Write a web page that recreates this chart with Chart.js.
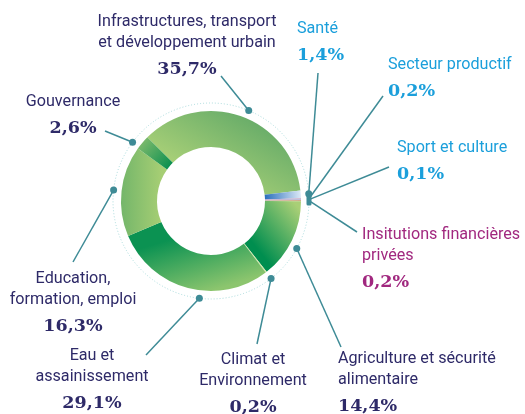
<!DOCTYPE html>
<html>
<head>
<meta charset="utf-8">
<script src="https://cdn.jsdelivr.net/npm/chart.js@4.4.1/dist/chart.umd.min.js"></script>
<style>
  html, body { margin: 0; padding: 0; background: #fff; overflow: hidden; }
</style>
</head>
<body>
<canvas id="donut" width="525" height="414"></canvas>
<script>
// Data (clockwise, starting at the upper left)
const categories = [
    'Infrastructures, transport\net développement urbain',
    'Santé',
    'Secteur productif',
    'Sport et culture',
    'Insitutions financières\nprivées',
    'Agriculture et sécurité\nalimentaire',
    'Climat et\nEnvironnement',
    'Eau et\nassainissement',
    'Education,\nformation, emploi',
    'Gouvernance'
];
const values = [35.7, 1.4, 0.2, 0.1, 0.2, 14.4, 0.2, 29.1, 16.3, 2.6];

// Slice fills. linear: from/to in radius units around the centre; radial: inner -> outer
const sliceFills = [
    { linear: [[0.3, -1.0], [-0.15, -0.2]], colors: ['#69ad69', '#acd278'] },
    { radial: ['#2a6fbd', '#dbe8f5'] },
    { solid: '#c9a3c2' },
    { solid: '#98aedb' },
    { solid: '#d0ad8a' },
    { linear: [[0.45, 0.45], [0.95, 0.05]], colors: ['#008e4f', '#a9cf76'] },
    { solid: '#d3e6a3' },
    { linear: [[-0.2, 0.35], [0.0, 1.0]], colors: ['#0b9252', '#8cc56e'] },
    { linear: [[-1.0, 0.0], [-0.55, 0.0]], colors: ['#74b66a', '#a6ce74'] },
    { radial: ['#0c9050', '#78b86b'] }
];

const navy = '#2e2a68';
const blue = '#1b9fdb';
const magenta = '#a1287f';
const textColors = [navy, blue, blue, blue, magenta, navy, navy, navy, navy, navy];

// Label placement: first baseline, alignment, leader end, dot shift (deg)
const labelLayout = [
    { x: 187, y: 26, align: 'center', end: [221, 76], shift: 3.5 },
    { x: 297, y: 33, align: 'left', end: [318, 73] },
    { x: 388, y: 69, align: 'left', end: [383, 96] },
    { x: 397, y: 152, align: 'left', end: [389, 167] },
    { x: 362, y: 239, align: 'left', end: [357, 232] },
    { x: 338, y: 363, align: 'left', end: [341, 347], shift: 3 },
    { x: 253, y: 364, align: 'center', end: [257, 344] },
    { x: 92, y: 360, align: 'center', end: [146, 355], shift: -8 },
    { x: 73, y: 283, align: 'center', end: [73, 262] },
    { x: 73, y: 106, align: 'center', end: [105, 131], shift: -3.5 }
];
const tinyGroup = [2, 3, 4]; // share one marker on the ring

const rotation = -45;

function sliceFill(context) {
    const chart = context.chart;
    const area = chart.chartArea;
    const fill = sliceFills[context.dataIndex];
    if (fill.solid) return fill.solid;
    if (!area) return (fill.colors || fill.radial)[0];
    const cx = (area.left + area.right) / 2;
    const cy = (area.top + area.bottom) / 2;
    const r = Math.min(area.right - area.left, area.bottom - area.top) / 2;
    const c = chart.ctx;
    let g;
    if (fill.radial) {
        g = c.createRadialGradient(cx, cy, r * 0.6, cx, cy, r);
        g.addColorStop(0, fill.radial[0]);
        g.addColorStop(1, fill.radial[1]);
        return g;
    }
    const [a, b] = fill.linear;
    g = c.createLinearGradient(cx + a[0] * r, cy + a[1] * r, cx + b[0] * r, cy + b[1] * r);
    g.addColorStop(0, fill.colors[0]);
    g.addColorStop(1, fill.colors[1]);
    return g;
}

function pct(v) {
    return v.toFixed(1).replace('.', ',') + '%';
}

const labelPlugin = {
    id: 'leaderLabels',
    afterDatasetsDraw(chart) {
        const c = chart.ctx;
        const arcs = chart.getDatasetMeta(0).data;
        const cx = arcs[0].x, cy = arcs[0].y;
        const R = arcs[0].outerRadius + 8;
        const lineColor = '#3e8b96';

        c.save();
        // dotted ring
        c.beginPath();
        c.arc(cx, cy, R, 0, Math.PI * 2);
        c.strokeStyle = '#a6d9da';
        c.lineWidth = 1;
        c.setLineDash([1, 2]);
        c.stroke();
        c.setLineDash([]);

        arcs.forEach((arc, i) => {
            const L = labelLayout[i];
            const mid = (arc.startAngle + arc.endAngle) / 2 + (L.shift || 0) * Math.PI / 180;
            const px = cx + R * Math.cos(mid);
            const py = cy + R * Math.sin(mid);
            c.beginPath();
            c.moveTo(px, py);
            c.lineTo(L.end[0], L.end[1]);
            c.strokeStyle = lineColor;
            c.lineWidth = 1.5;
            c.stroke();
            if (!tinyGroup.includes(i)) {
                c.beginPath();
                c.arc(px, py, 3.5, 0, Math.PI * 2);
                c.fillStyle = lineColor;
                c.fill();
            }
        });

        // shared marker for the tiny slices
        const g0 = arcs[tinyGroup[0]], g1 = arcs[tinyGroup[tinyGroup.length - 1]];
        const gm = (g0.startAngle + g1.endAngle) / 2;
        const mx = cx + R * Math.cos(gm), my = cy + R * Math.sin(gm);
        c.fillStyle = lineColor;
        c.beginPath();
        c.roundRect(mx - 2.5, my - 6, 5, 12, 1.5);
        c.fill();

        // labels
        const hs = 0.95;
        categories.forEach((name, i) => {
            const L = labelLayout[i];
            const lines = name.split('\n');
            c.fillStyle = textColors[i];
            c.textAlign = L.align;
            c.textBaseline = 'alphabetic';
            c.font = '17px Roboto';
            lines.forEach((t, n) => {
                c.save();
                c.translate(L.x, L.y + n * 21);
                c.scale(hs, 1);
                c.fillText(t, 0, 0);
                c.restore();
            });
            c.font = 'bold 17.5px "DejaVu Serif"';
            c.fillText(pct(values[i]), L.x, L.y + (lines.length - 1) * 21 + 27);
        });
        c.restore();
    }
};

new Chart(document.getElementById('donut'), {
    type: 'doughnut',
    data: {
        labels: categories,
        datasets: [{
            data: values,
            backgroundColor: sliceFill,
            borderWidth: 0
        }]
    },
    options: {
        responsive: false,
        animation: false,
        rotation: rotation,
        cutout: '60%',
        layout: { padding: { left: 121, right: 224, top: 111, bottom: 123 } },
        plugins: {
            legend: { display: false },
            tooltip: { enabled: false }
        }
    },
    plugins: [labelPlugin]
});
</script>
</body>
</html>
